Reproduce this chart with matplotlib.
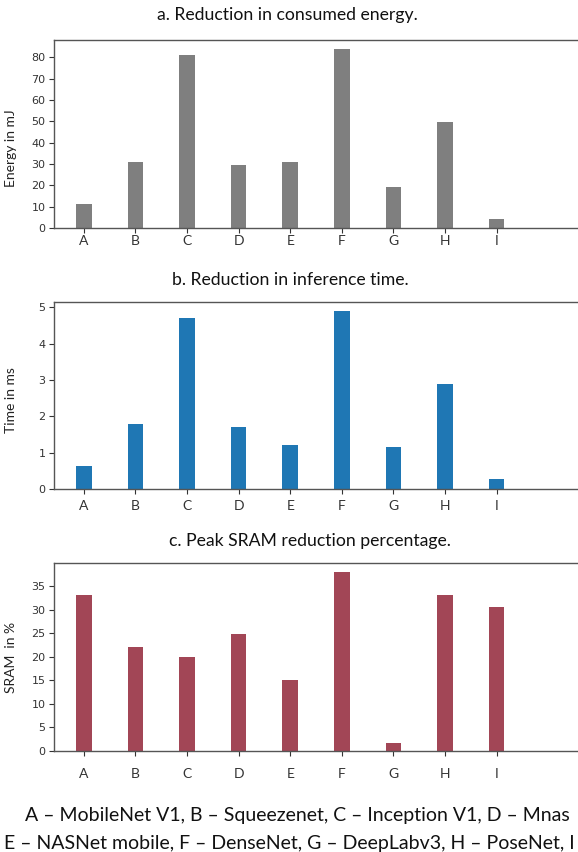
import matplotlib
matplotlib.use("Agg")
import matplotlib.pyplot as plt
from matplotlib.ticker import MultipleLocator

# ── Data ──────────────────────────────────────────────────────────────────────
models = ["A", "B", "C", "D", "E", "F", "G", "H", "I"]
energy_mj = [11.3, 30.7, 80.9, 29.4, 31.0, 83.9, 19.2, 49.9, 4.4]
time_ms = [0.64, 1.80, 4.72, 1.72, 1.20, 4.91, 1.15, 2.90, 0.28]
sram_pct = [33.2, 22.2, 20.0, 24.8, 15.0, 38.0, 1.6, 33.2, 30.7]

titles = ["a. Reduction in consumed energy.",
          "b. Reduction in inference time.",
          "c. Peak SRAM reduction percentage."]
ylabels = ["Energy in mJ", "Time in ms", "SRAM  in %"]
caption = ["A – MobileNet V1, B – Squeezenet, C – Inception V1, D – Mnas",
           "E – NASNet mobile, F – DenseNet, G – DeepLabv3, H – PoseNet, I"]

colors = ["#7f7f7f", "#1f77b4", "#a24656"]
y_steps = [10, 1, 5]
TEXT_FONT = ["Lato", "DejaVu Sans"]

fig = plt.figure(figsize=(5.78, 8.52), dpi=100)
W, H = 578, 852

# axes boxes in pixels: (top, bottom); the picture is cut at the right edge
boxes = [(40, 228), (301.7, 489), (563.3, 751)]
title_pos = [(287, 15), (290, 280), (310, 541)]
ylabel_y = [148, 400, 657]
xlabel_pad = [1.8, 4.7, 9.0]
series = [energy_mj, time_ms, sram_pct]

for i, vals in enumerate(series):
    top, bot = boxes[i]
    ax = fig.add_axes([54 / W, 1 - bot / H, (W - 54) / W, (bot - top) / H])
    xs = range(len(models))
    ax.bar(xs, vals, width=0.3, color=colors[i], zorder=2)
    ax.set_xlim(-0.58, 9.58)
    ax.set_xticks(list(xs))
    ax.set_xticklabels(models, fontsize=10, family=TEXT_FONT, color="#222222")
    ax.yaxis.set_major_locator(MultipleLocator(y_steps[i]))
    ax.tick_params(axis="y", labelsize=8, length=3.5, width=0.8,
                   colors="#333333", pad=2.5)
    ax.tick_params(axis="x", length=3.5, width=0.8, colors="#333333",
                   pad=xlabel_pad[i])
    for s in ax.spines.values():
        s.set_color("#555555")
        s.set_linewidth(1.0)
    ax.spines["right"].set_visible(False)

    fig.text(title_pos[i][0] / W, 1 - title_pos[i][1] / H, titles[i],
             ha="center", va="center", fontsize=12.7, family=TEXT_FONT,
             color="#111111")
    fig.text(11 / W, 1 - ylabel_y[i] / H, ylabels[i], rotation=90,
             ha="center", va="center", fontsize=10, family=TEXT_FONT,
             color="#222222")

fig.text(25 / W, 1 - 815 / H, caption[0], ha="left", va="center",
         fontsize=14, family=TEXT_FONT, color="#111111")
fig.text(4 / W, 1 - 843 / H, caption[1], ha="left", va="center",
         fontsize=14, family=TEXT_FONT, color="#111111")

fig.savefig("out.png", dpi=100)
